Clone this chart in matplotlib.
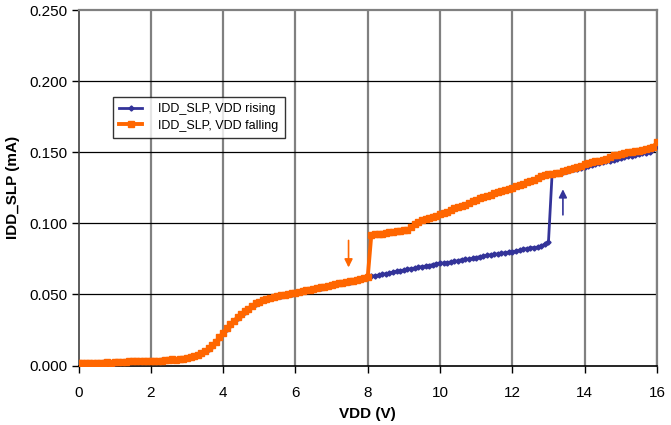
import numpy as np
import matplotlib
matplotlib.use("Agg")
import matplotlib.pyplot as plt

plt.rcParams['font.family'] = ['Liberation Sans', 'DejaVu Sans']

# supply voltage sweep, 0.1 V steps
vdd = np.round(np.arange(0, 16.01, 0.1), 1)

# sleep current (mA), VDD rising
idd_rising = [
    0.0015, 0.0018, 0.0016, 0.0019, 0.0017, 0.0020, 0.0016, 0.0022, 0.0025, 0.0019,
    0.0021, 0.0024, 0.0026, 0.0028, 0.0030, 0.0033, 0.0029, 0.0031, 0.0032, 0.0030,
    0.0032, 0.0034, 0.0033, 0.0036, 0.0038, 0.0041, 0.0044, 0.0040, 0.0045, 0.0048,
    0.0053, 0.0058, 0.0066, 0.0075, 0.0086, 0.0100, 0.0118, 0.0140, 0.0164, 0.0195,
    0.0228, 0.0258, 0.0285, 0.0312, 0.0335, 0.0358, 0.0378, 0.0398, 0.0418, 0.0435,
    0.0448, 0.0458, 0.0466, 0.0474, 0.0480, 0.0487, 0.0491, 0.0496, 0.0500, 0.0506,
    0.0512, 0.0515, 0.0521, 0.0526, 0.0530, 0.0536, 0.0542, 0.0548, 0.0553, 0.0560,
    0.0566, 0.0572, 0.0577, 0.0580, 0.0585, 0.0590, 0.0597, 0.0603, 0.0608, 0.0614,
    0.0620, 0.0628, 0.0632, 0.0636, 0.0641, 0.0646, 0.0650, 0.0657, 0.0662, 0.0666,
    0.0672, 0.0678, 0.0681, 0.0686, 0.0691, 0.0696, 0.0699, 0.0703, 0.0710, 0.0716,
    0.0722, 0.0720, 0.0724, 0.0729, 0.0733, 0.0737, 0.0745, 0.0749, 0.0748, 0.0753,
    0.0759, 0.0766, 0.0768, 0.0775, 0.0779, 0.0782, 0.0786, 0.0789, 0.0794, 0.0798,
    0.0801, 0.0805, 0.0812, 0.0818, 0.0822, 0.0828, 0.0830, 0.0833, 0.0842, 0.0852,
    0.0868, 0.1345, 0.1352, 0.1358, 0.1364, 0.1368, 0.1374, 0.1380, 0.1386, 0.1393,
    0.1400, 0.1405, 0.1410, 0.1416, 0.1423, 0.1430, 0.1436, 0.1441, 0.1447, 0.1453,
    0.1460, 0.1466, 0.1471, 0.1476, 0.1481, 0.1487, 0.1493, 0.1498, 0.1504, 0.1525,
    0.1545,
]

# sleep current (mA), VDD falling
idd_falling = [
    0.0016, 0.0017, 0.0018, 0.0017, 0.0019, 0.0018, 0.0015, 0.0021, 0.0024, 0.0020,
    0.0022, 0.0023, 0.0027, 0.0027, 0.0031, 0.0032, 0.0030, 0.0032, 0.0031, 0.0031,
    0.0033, 0.0033, 0.0034, 0.0035, 0.0039, 0.0040, 0.0045, 0.0041, 0.0046, 0.0049,
    0.0054, 0.0060, 0.0068, 0.0077, 0.0088, 0.0103, 0.0121, 0.0143, 0.0168, 0.0199,
    0.0232, 0.0262, 0.0289, 0.0316, 0.0338, 0.0361, 0.0381, 0.0401, 0.0420, 0.0437,
    0.0450, 0.0460, 0.0468, 0.0475, 0.0482, 0.0488, 0.0493, 0.0497, 0.0502, 0.0507,
    0.0513, 0.0517, 0.0522, 0.0528, 0.0532, 0.0537, 0.0544, 0.0549, 0.0555, 0.0561,
    0.0567, 0.0573, 0.0578, 0.0582, 0.0586, 0.0592, 0.0598, 0.0604, 0.0609, 0.0615,
    0.0621, 0.0920, 0.0925, 0.0926, 0.0928, 0.0932, 0.0936, 0.0942, 0.0945, 0.0948,
    0.0951, 0.0956, 0.0975, 0.0995, 0.1010, 0.1022, 0.1030, 0.1038, 0.1045, 0.1053,
    0.1065, 0.1073, 0.1083, 0.1097, 0.1105, 0.1118, 0.1124, 0.1132, 0.1145, 0.1155,
    0.1165, 0.1178, 0.1186, 0.1195, 0.1203, 0.1213, 0.1224, 0.1230, 0.1236, 0.1242,
    0.1252, 0.1262, 0.1268, 0.1280, 0.1290, 0.1296, 0.1305, 0.1316, 0.1330, 0.1340,
    0.1345, 0.1348, 0.1352, 0.1357, 0.1370, 0.1375, 0.1380, 0.1388, 0.1395, 0.1405,
    0.1418, 0.1425, 0.1430, 0.1436, 0.1442, 0.1448, 0.1455, 0.1470, 0.1478, 0.1483,
    0.1490, 0.1495, 0.1500, 0.1505, 0.1509, 0.1512, 0.1517, 0.1523, 0.1530, 0.1540,
    0.1570,
]

# hysteresis arrows: (x, tail y, tip y)
arrow_falling = (7.47, 0.088, 0.069)
arrow_rising = (13.4, 0.106, 0.124)

x_ticks = [0, 2, 4, 6, 8, 10, 12, 14, 16]
y_ticks = [0.000, 0.050, 0.100, 0.150, 0.200, 0.250]

blue = '#333399'
orange = '#FF6600'

fig = plt.figure(figsize=(6.71, 4.25), dpi=100)
ax = fig.add_axes([0.117, 0.14, 0.862, 0.836])

# gridlines: vertical grey, horizontal black
for xv in x_ticks[1:]:
    ax.axvline(xv, color='#808080', lw=1.6, zorder=1)
for yv in y_ticks[1:-1]:
    ax.axhline(yv, color='black', lw=0.9, zorder=1)

ax.plot(vdd, idd_rising, color=blue, lw=2.0, marker='D', ms=2.6,
        label='IDD_SLP, VDD rising', zorder=3)
ax.plot(vdd, idd_falling, color=orange, lw=2.8, marker='s', ms=4.2,
        label='IDD_SLP, VDD falling', zorder=4)

ax.annotate('', xy=(arrow_falling[0], arrow_falling[2]),
            xytext=(arrow_falling[0], arrow_falling[1]),
            arrowprops=dict(arrowstyle='-|>', color=orange, lw=1.2,
                            mutation_scale=12, shrinkA=0, shrinkB=0))
ax.annotate('', xy=(arrow_rising[0], arrow_rising[2]),
            xytext=(arrow_rising[0], arrow_rising[1]),
            arrowprops=dict(arrowstyle='-|>', color=blue, lw=1.2,
                            mutation_scale=12, shrinkA=0, shrinkB=0))

ax.set_xlim(0, 16)
ax.set_ylim(0, 0.25)
ax.set_xticks(x_ticks)
ax.set_yticks(y_ticks)
ax.set_yticklabels(['%.3f' % v for v in y_ticks])
ax.tick_params(direction='out', length=5, width=1, labelsize=11, pad=3)
ax.tick_params(axis='x', pad=10)

ax.spines['top'].set_color('#808080')
ax.spines['right'].set_color('#808080')
ax.spines['top'].set_linewidth(1.6)
ax.spines['right'].set_linewidth(1.6)
ax.spines['left'].set_color('#404040')
ax.spines['left'].set_linewidth(1.2)
ax.spines['bottom'].set_color('black')
ax.spines['bottom'].set_linewidth(1.2)

ax.set_xlabel('VDD (V)', fontsize=11, fontweight='bold', labelpad=5)
ax.set_ylabel('IDD_SLP (mA)', fontsize=11, fontweight='bold', labelpad=7)

leg = ax.legend(loc='upper left', bbox_to_anchor=(0.06, 0.755), fontsize=9,
                frameon=True, fancybox=False, edgecolor='black',
                borderaxespad=0, handlelength=1.8, borderpad=0.5,
                labelspacing=0.35, handletextpad=1.3)
leg.get_frame().set_linewidth(1.0)
leg.set_zorder(5)

fig.savefig('out.png', dpi=100)
